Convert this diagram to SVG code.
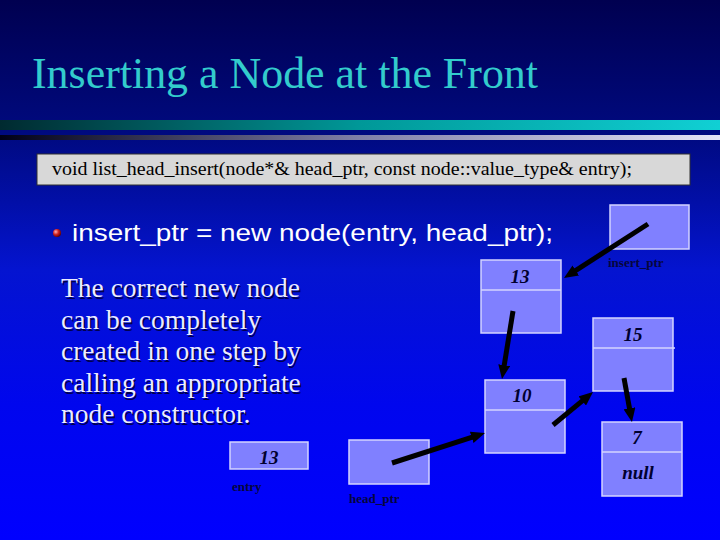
<svg xmlns="http://www.w3.org/2000/svg" width="720" height="540" viewBox="0 0 720 540">
<defs>
<linearGradient id="bg" x1="0" y1="0" x2="0" y2="1">
<stop offset="0" stop-color="#000050"/>
<stop offset="0.25" stop-color="#000a80"/>
<stop offset="0.5" stop-color="#0414d0"/>
<stop offset="0.75" stop-color="#0006ee"/>
<stop offset="1" stop-color="#0000ff"/>
</linearGradient>
<linearGradient id="teal" x1="0" y1="0" x2="1" y2="0">
<stop offset="0" stop-color="#002a30"/>
<stop offset="0.5" stop-color="#009898"/>
<stop offset="1" stop-color="#10d0d4"/>
</linearGradient>
<linearGradient id="lav" x1="0" y1="0" x2="1" y2="0">
<stop offset="0" stop-color="#000018"/>
<stop offset="0.5" stop-color="#8080a8"/>
<stop offset="1" stop-color="#e4e4f8"/>
</linearGradient>
<radialGradient id="ball" cx="0.35" cy="0.35" r="0.7">
<stop offset="0" stop-color="#ffb0b0"/>
<stop offset="0.5" stop-color="#d02020"/>
<stop offset="1" stop-color="#600000"/>
</radialGradient>
<marker id="ah" markerUnits="userSpaceOnUse" markerWidth="14" markerHeight="12" refX="4" refY="6" orient="auto">
<path d="M0,0 L14,6 L0,12 z" fill="#000"/>
</marker>
<style>
.box{fill:#8080ff;stroke:#d4d4ff;stroke-width:1.5}
.div{stroke:#d4d4ff;stroke-width:1.5}
.val{font-family:"Liberation Serif",serif;font-weight:bold;font-style:italic;font-size:19px;fill:#000030;text-anchor:middle}
.lbl{font-family:"Liberation Serif",serif;font-weight:bold;font-size:13px;fill:#06063c}
.para{font-family:"Liberation Serif",serif;font-size:27.5px}
.arr{stroke:#000;stroke-width:5;fill:none;marker-end:url(#ah)}
</style>
</defs>
<rect width="720" height="540" fill="url(#bg)"/>
<text x="32" y="88" font-family="Liberation Serif,serif" font-size="44" fill="#33cccc" textLength="506" lengthAdjust="spacingAndGlyphs">Inserting a Node at the Front</text>
<rect x="0" y="120" width="720" height="10" fill="url(#teal)"/>
<rect x="0" y="135" width="720" height="5" fill="url(#lav)"/>
<g id="signature">
<rect x="37" y="154" width="653" height="31" fill="#d8d8d8" stroke="#303030" stroke-width="1"/>
<text x="52" y="175" font-family="Liberation Serif,serif" font-size="18" fill="#000" textLength="580" lengthAdjust="spacingAndGlyphs">void list_head_insert(node*&amp; head_ptr, const node::value_type&amp; entry);</text>
</g>
<circle cx="57" cy="233" r="4" fill="url(#ball)"/>
<text x="72" y="241" font-family="Liberation Sans,Arial,sans-serif" font-size="24" fill="#ffffff" textLength="481" lengthAdjust="spacingAndGlyphs">insert_ptr = new node(entry, head_ptr);</text>
<g class="para">
<g fill="#000050" transform="translate(1.5,1.5)">
<text x="61" y="297">The correct new node</text>
<text x="61" y="329">can be completely</text>
<text x="61" y="360">created in one step by</text>
<text x="61" y="392">calling an appropriate</text>
<text x="61" y="423">node constructor.</text>
</g>
<g fill="#ececff">
<text x="61" y="297">The correct new node</text>
<text x="61" y="329">can be completely</text>
<text x="61" y="360">created in one step by</text>
<text x="61" y="392">calling an appropriate</text>
<text x="61" y="423">node constructor.</text>
</g>
</g>
<g id="insert_ptr">
<rect class="box" x="610" y="205" width="79" height="44"/>
<text class="lbl" x="608" y="267">insert_ptr</text>
</g>
<g id="node13">
<rect class="box" x="481" y="260" width="80" height="73"/>
<line class="div" x1="481" y1="290" x2="561" y2="290"/>
<text class="val" x="520" y="283">13</text>
</g>
<g id="node15">
<rect class="box" x="593" y="318" width="80" height="73"/>
<line class="div" x1="593" y1="348" x2="675" y2="348"/>
<text class="val" x="633" y="341">15</text>
</g>
<g id="node10">
<rect class="box" x="485" y="380" width="80" height="73"/>
<line class="div" x1="485" y1="410" x2="565" y2="410"/>
<text class="val" x="522" y="402">10</text>
</g>
<g id="node7">
<rect class="box" x="602" y="422" width="80" height="74"/>
<line class="div" x1="602" y1="452" x2="682" y2="452"/>
<text class="val" x="637" y="444" font-weight="normal">7</text>
<text class="val" x="638" y="479">null</text>
</g>
<g id="entry">
<rect class="box" x="230" y="442" width="78" height="27"/>
<text class="val" x="269" y="464">13</text>
<text class="lbl" x="232" y="491">entry</text>
</g>
<g id="head_ptr">
<rect class="box" x="349" y="440" width="80" height="44"/>
<text class="lbl" x="349" y="503">head_ptr</text>
</g>
<g id="connectors">
<line class="arr" x1="648" y1="224" x2="572.4" y2="272.6"/>
<line class="arr" x1="513" y1="311" x2="503.6" y2="369.1"/>
<line class="arr" x1="392" y1="463" x2="475.5" y2="436.1"/>
<line class="arr" x1="553" y1="425" x2="585.3" y2="398.4"/>
<line class="arr" x1="624" y1="378" x2="630.2" y2="412.2"/>
</g>
</svg>
